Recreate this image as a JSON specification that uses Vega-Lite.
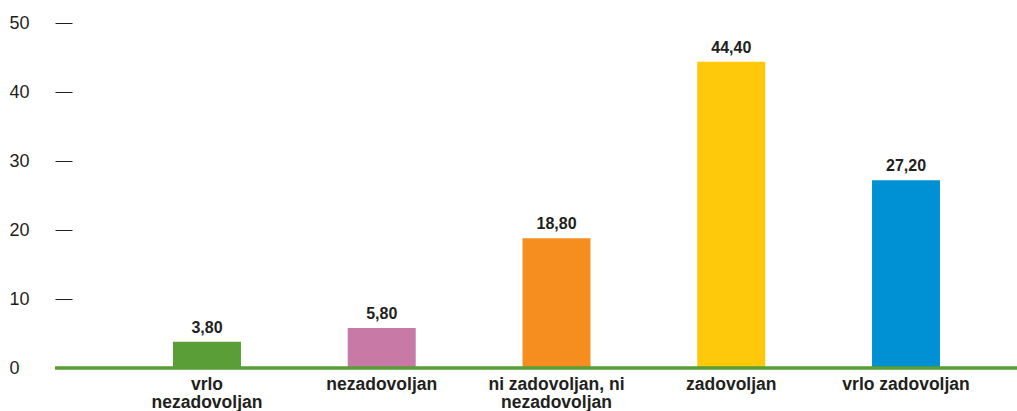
{
  "$schema": "https://vega.github.io/schema/vega-lite/v6.json",
  "width": 962,
  "height": 345,
  "autosize": {"type": "none"},
  "padding": {"left": 55, "top": 23, "right": 0, "bottom": 43},
  "background": "white",
  "config": {
    "view": {"stroke": null},
    "font": "Liberation Sans",
    "locale": {"number": {"decimal": ",", "thousands": ".", "grouping": [3], "currency": ["", ""]}}
  },
  "data": {
    "values": [
      {"category": "vrlo nezadovoljan", "value": 3.8},
      {"category": "nezadovoljan", "value": 5.8},
      {"category": "ni zadovoljan, ni nezadovoljan", "value": 18.8},
      {"category": "zadovoljan", "value": 44.4},
      {"category": "vrlo zadovoljan", "value": 27.2}
    ]
  },
  "layer": [
    {
      "mark": {"type": "bar"},
      "encoding": {
        "x": {
          "field": "category",
          "type": "nominal",
          "sort": null,
          "scale": {"range": [64.6, 938.4], "paddingInner": 0.611, "paddingOuter": 0.3055},
          "axis": {
            "title": null,
            "labelAngle": 0,
            "ticks": false,
            "domain": false,
            "labelFont": "Liberation Sans",
            "labelFontWeight": "bold",
            "labelFontSize": 17.5,
            "labelColor": "#231f20",
            "labelPadding": 7,
            "labelLineHeight": 18,
            "labelBaseline": "top",
            "labelExpr": "datum.label == 'vrlo nezadovoljan' ? ['vrlo', 'nezadovoljan'] : datum.label == 'ni zadovoljan, ni nezadovoljan' ? ['ni zadovoljan, ni', 'nezadovoljan'] : datum.label"
          }
        },
        "y": {
          "field": "value",
          "type": "quantitative",
          "scale": {"domain": [0, 50], "nice": false},
          "axis": {
            "title": null,
            "values": [0, 10, 20, 30, 40, 50],
            "domain": false,
            "grid": false,
            "tickSize": -17,
            "tickColor": {"condition": {"test": "datum.value == 0", "value": "transparent"}, "value": "#231f20"},
            "tickWidth": 1,
            "labelAlign": "left",
            "labelPadding": 63,
            "labelFont": "Liberation Sans",
            "labelFontSize": 18,
            "labelColor": "#231f20"
          }
        },
        "color": {
          "field": "category",
          "type": "nominal",
          "legend": null,
          "scale": {
            "domain": ["vrlo nezadovoljan", "nezadovoljan", "ni zadovoljan, ni nezadovoljan", "zadovoljan", "vrlo zadovoljan"],
            "range": ["#5a9e37", "#c979a6", "#f68d1f", "#fec80b", "#0091d5"]
          }
        }
      }
    },
    {
      "mark": {"type": "text", "baseline": "alphabetic", "dy": -9, "fontWeight": "bold", "fontSize": 16, "color": "#231f20", "font": "Liberation Sans"},
      "encoding": {
        "x": {"field": "category", "type": "nominal", "sort": null},
        "y": {"field": "value", "type": "quantitative"},
        "text": {"field": "value", "type": "quantitative", "format": ".2f"}
      }
    },
    {
      "mark": {"type": "rule", "color": "#5a9e37", "strokeWidth": 2.5},
      "encoding": {
        "y": {"datum": 0}
      }
    }
  ]
}
